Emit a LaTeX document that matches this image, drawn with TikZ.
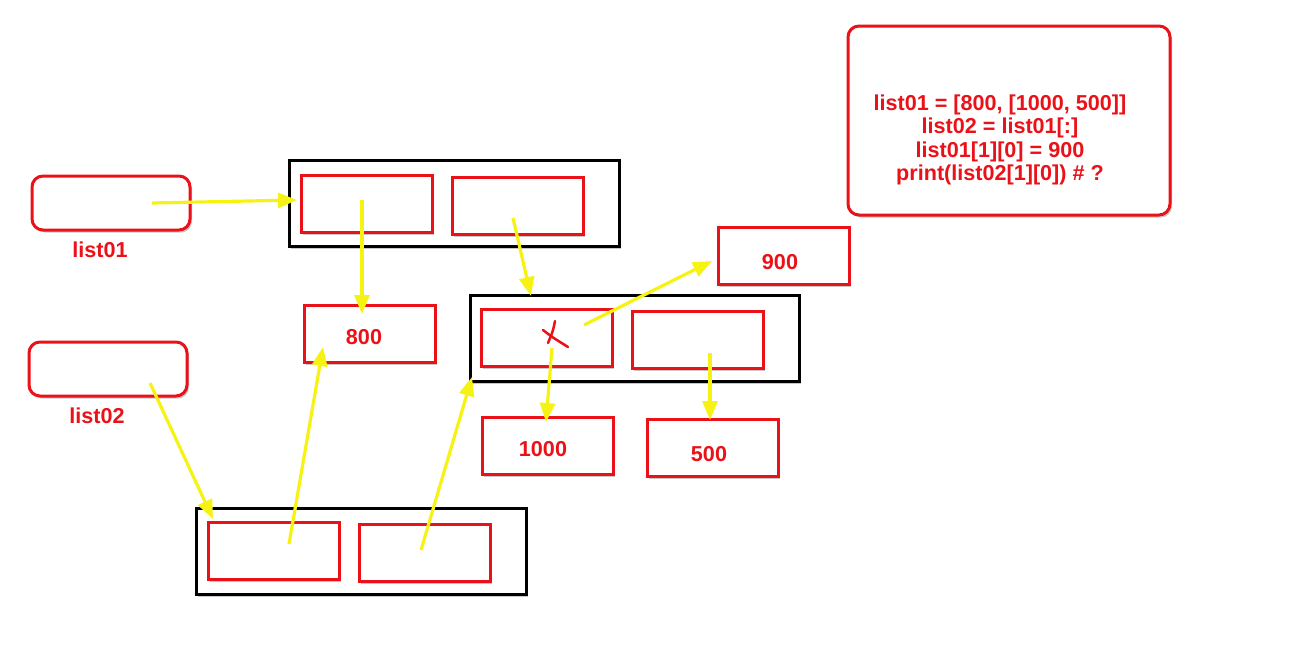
\documentclass[tikz,border=0pt]{standalone}
\usepackage{fontspec}
\setmainfont{Liberation Sans}
\usetikzlibrary{arrows.meta,shadows,calc}
\definecolor{bred}{RGB}{234,18,24}
\definecolor{ayel}{RGB}{246,243,20}
\begin{document}
\begin{tikzpicture}[x=1pt,y=-1pt,
  sh/.style={drop shadow={shadow xshift=2pt,shadow yshift=-2.5pt,opacity=0.22,fill=black}},
  redbox/.style={draw=bred,line width=3pt,fill=white,minimum width=131pt,minimum height=57pt,inner sep=0pt,sh},
  roundbox/.style={draw=bred,line width=3pt,fill=white,rounded corners=11pt,inner sep=0pt,sh},
  blackbox/.style={draw=black,line width=3pt,fill=white,minimum width=330pt,minimum height=86pt,inner sep=0pt,sh},
  lbl/.style={text=bred,font=\fontsize{21.6}{23.6}\selectfont\bfseries,inner sep=0pt},
  arr/.style={draw=ayel,line width=3.2pt,-{Triangle[length=19pt,width=15pt]}}
]
\useasboundingbox (0,0) rectangle (1312,645);

% variable boxes
\node[roundbox,minimum width=158pt,minimum height=54pt] (l1) at (111,203) {};
\node[lbl] (l1t) at (100,250) {list01};
\node[roundbox,minimum width=158pt,minimum height=54pt] (l2) at (108,369) {};
\node[lbl] (l2t) at (97,416) {list02};

% code box
\node[roundbox,minimum width=322pt,minimum height=189pt] (code) at (1009,120.5) {};
\node[lbl,align=center] (codet) at (1000,140) {list01 = [800, [1000, 500]]\\list02 = list01[:]\\list01[1][0] = 900\\print(list02[1][0]) \# ?};

% top list
\node[blackbox] (top) at (454,203) {};
\node[redbox] (ta) at (366.5,203.5) {};
\node[redbox] (tb) at (517.5,205.5) {};

% inner list
\node[blackbox,minimum width=329pt] (mid) at (634.5,338) {};
\node[redbox] (ma) at (546.5,338) {};
\node[redbox] (mb) at (697.5,340) {};

% bottom list
\node[blackbox] (bot) at (361,551) {};
\node[redbox] (ba) at (273.5,550.5) {};
\node[redbox] (bb) at (424.5,552.5) {};

% values
\node[redbox] (v800) at (369.5,333.5) {};
\node[lbl] (t800) at (364,337) {800};
\node[redbox] (v900) at (783.5,256) {};
\node[lbl] (t900) at (780,262) {900};
\node[redbox] (v1000) at (547.5,446) {};
\node[lbl] (t1000) at (543,449) {1000};
\node[redbox] (v500) at (712.5,448) {};
\node[lbl] (t500) at (709,454) {500};

% cross mark
\draw[bred,line width=2.5pt,line cap=round] (543,330) .. controls (552,337) .. (568,347);
\draw[bred,line width=2.5pt,line cap=round] (555,321) .. controls (553,331) .. (548,343);

% arrow endpoints
\coordinate (s1) at (152,203);
\coordinate (e1) at (297,200);
\coordinate (s2) at (362,200);
\coordinate (e2) at (362,314);
\coordinate (s3) at (513,218);
\coordinate (e3) at (531,296);
\coordinate (s4) at (150,383);
\coordinate (e4) at (213,519);
\coordinate (s5) at (289,544);
\coordinate (e5) at (323,347);
\coordinate (s6) at (421,550);
\coordinate (e6) at (472,377);
\coordinate (s7) at (584,325);
\coordinate (e7) at (712,261);
\coordinate (s8) at (552,348);
\coordinate (e8) at (546,422);
\coordinate (s9) at (710,353);
\coordinate (e9) at (710,420);

\draw[arr] (s1) -- (e1);
\draw[arr] (s2) -- (e2);
\draw[arr] (s3) -- (e3);
\draw[arr] (s4) -- (e4);
\draw[arr] (s5) -- (e5);
\draw[arr] (s6) -- (e6);
\draw[arr] (s7) -- (e7);
\draw[arr] (s8) -- (e8);
\draw[arr] (s9) -- (e9);
\end{tikzpicture}
\end{document}
